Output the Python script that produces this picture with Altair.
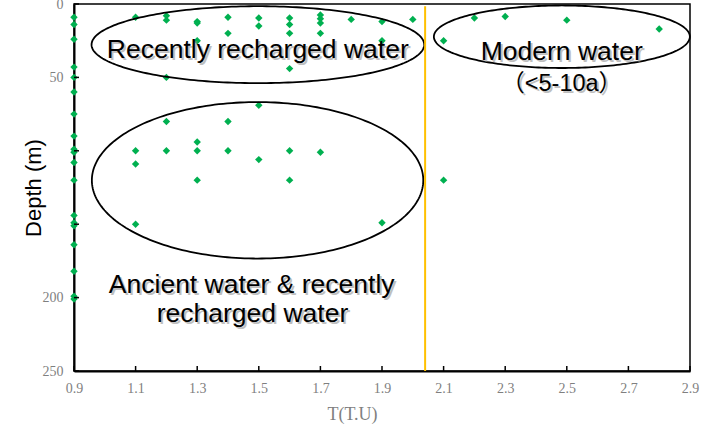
import altair as alt
import pandas as pd
import numpy as np

# ---- data ----
t_values = [0.9] * 19 + [1.1] * 4 + [1.2] * 5 + [1.3] * 6 + [1.4] * 4 + [1.5] * 4 + \
    [1.6] * 6 + [1.7] * 5 + [1.8] + [1.9] * 3 + [2.0] + [2.1] * 2 + [2.2] + [2.3] + [2.5] + [2.8]
depth_values = [
    9, 14, 24, 43, 50, 60, 75, 90, 99, 101, 108, 120, 144, 149, 151, 164, 182, 199, 201,  # 0.9
    9, 100, 109, 150,            # 1.1
    8, 11, 50, 80, 100,          # 1.2
    12, 13, 25, 94, 100, 120,    # 1.3
    9, 20, 80, 100,              # 1.4
    9.5, 15, 69, 106,            # 1.5
    9.5, 14, 20, 44, 100, 120,   # 1.6
    7.5, 10, 13, 20, 101,        # 1.7
    10.5,                        # 1.8
    12, 25, 149,                 # 1.9
    10.5,                        # 2.0
    25, 120,                     # 2.1
    9.5,                         # 2.2
    8.5,                         # 2.3
    11,                          # 2.5
    17,                          # 2.8
]

x_tick_values = [0.9, 1.1, 1.3, 1.5, 1.7, 1.9, 2.1, 2.3, 2.5, 2.7, 2.9]
y_label_values = [0, 50, 200, 250]
y_tick_values = [0, 50, 100, 150, 200, 250]

divider_t = [2.04]

ellipse_names = ["recent", "ancient", "modern"]
ellipse_cx = [1.497, 1.496, 2.484]
ellipse_cy = [27.7, 120.1, 22.3]
ellipse_rx = [0.540, 0.538, 0.4156]
ellipse_ry = [26.2, 53.3, 21.3]

label_texts = ["Recently recharged water", "Modern water",
               "Ancient water & recently", "recharged water"]
label_t = [1.4967, 2.4834, 1.477, 1.4795]
label_depth = [36.7, 37.9, 197.0, 216.7]

sub_label_text = ["（<5-10a）"]
sub_label_t = [2.4834]
sub_label_depth = [59.4]

# ---- tables ----
points = pd.DataFrame({"T": t_values, "Depth": depth_values})

rows = []
angles = np.linspace(0, 2 * np.pi, 241)
for name, cx, cy, rx, ry in zip(ellipse_names, ellipse_cx, ellipse_cy, ellipse_rx, ellipse_ry):
    for k, a in enumerate(angles):
        rows.append({"name": name, "k": k, "T": cx + rx * np.cos(a), "Depth": cy + ry * np.sin(a)})
ellipses = pd.DataFrame(rows)

labels = pd.DataFrame({"text": label_texts, "T": label_t, "Depth": label_depth})
sub_labels = pd.DataFrame({"text": sub_label_text, "T": sub_label_t, "Depth": sub_label_depth})
divider = pd.DataFrame({"T": divider_t, "top": [1.5], "bottom": [250]})
xticks = pd.DataFrame({"T": x_tick_values})
yticks = pd.DataFrame({"Depth": y_tick_values})

W, H = 616, 367

x_enc = alt.X(
    "T:Q",
    scale=alt.Scale(domain=[0.9, 2.9], nice=False, zero=False),
    axis=alt.Axis(
        values=x_tick_values, format=".1f", grid=False, tickSize=0, labelFlush=False,
        labelFont="Liberation Serif", labelFontSize=14, labelColor="#7f7f7f", labelPadding=10,
        domainColor="black", domainWidth=2,
        title="T(T.U)", titleFont="Liberation Serif", titleFontSize=18, titleColor="#7f7f7f",
        titleFontWeight="normal", titleX=278, titleY=43, titleBaseline="middle", titleAlign="center",
    ),
)
y_enc = alt.Y(
    "Depth:Q",
    scale=alt.Scale(domain=[0, 250], reverse=True, nice=False),
    axis=alt.Axis(
        values=y_label_values, grid=False, tickSize=0, labelFlush=False,
        labelFont="Liberation Serif", labelFontSize=14, labelColor="#7f7f7f", labelPadding=11,
        domainColor="black", domainWidth=2,
        title="Depth (m)", titleFont="Liberation Sans", titleFontSize=22, titleColor="black",
        titleFontWeight="normal", titleAngle=270, titleX=-34, titleY=183.5,
        titleAlign="center", titleBaseline="alphabetic",
    ),
)

ellipse_layer = alt.Chart(ellipses).mark_line(color="black", strokeWidth=1.8).encode(
    x=alt.X("T:Q"), y=alt.Y("Depth:Q"), detail="name:N", order="k:Q"
)

divider_layer = alt.Chart(divider).mark_rule(color="#FFC000", strokeWidth=2).encode(
    x="T:Q", y="top:Q", y2="bottom:Q"
)

point_layer = alt.Chart(points).mark_point(
    shape="diamond", filled=True, size=55, color="#00B050", opacity=1
).encode(x=x_enc, y=y_enc)


def text_pair(df, font, size):
    shadow = alt.Chart(df).mark_text(
        font=font, fontSize=size, color="#8c8c8c", opacity=0.55,
        align="center", baseline="alphabetic", dx=2, dy=2
    ).encode(x="T:Q", y="Depth:Q", text="text:N")
    front = alt.Chart(df).mark_text(
        font=font, fontSize=size, color="black",
        align="center", baseline="alphabetic"
    ).encode(x="T:Q", y="Depth:Q", text="text:N")
    return shadow, front


lab_shadow, lab_front = text_pair(labels, "Liberation Sans", 26.5)
sub_shadow, sub_front = text_pair(sub_labels, "Liberation Sans, Noto Sans CJK SC", 23.5)

xtick_layer = alt.Chart(xticks).mark_rule(color="black", strokeWidth=1.5).encode(
    x="T:Q", y=alt.value(H), y2=alt.value(H - 5)
)
ytick_layer = alt.Chart(yticks).mark_rule(color="black", strokeWidth=1.5).encode(
    y="Depth:Q", x=alt.value(0), x2=alt.value(5)
)

chart = alt.layer(
    point_layer, ellipse_layer, divider_layer,
    lab_shadow, lab_front, sub_shadow, sub_front,
    xtick_layer, ytick_layer
).properties(
    width=W, height=H,
    autosize=alt.AutoSizeParams(type="none"),
    padding={"left": 74, "top": 4, "right": 22, "bottom": 56},
    background="white",
).configure_view(stroke="black", strokeWidth=1.5)

chart.save("out.html", embed_options={"renderer": "svg", "actions": False})
